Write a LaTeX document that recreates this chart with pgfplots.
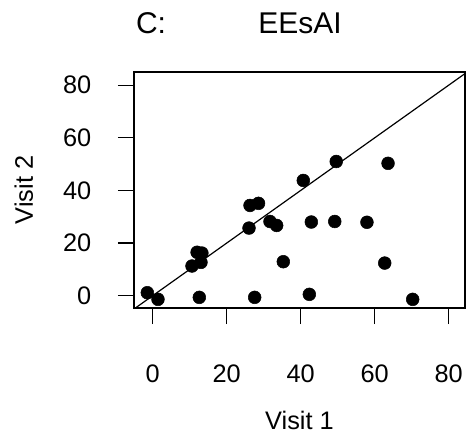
\documentclass[border=0pt]{standalone}
\usepackage{pgfplots}
\pgfplotsset{compat=1.18}
\usepackage{fontspec}
\setmainfont{Liberation Sans}

\begin{document}
\begin{tikzpicture}
\fontsize{19}{22}\selectfont
\begin{axis}[
    at={(0,0)}, anchor=south west,
    scale only axis,
    width=248.25pt, height=177pt,
    xmin=-5.05, xmax=84.4,
    ymin=-4.67, ymax=85,
    xtick={0,20,40,60,80},
    ytick={0,20,40,60,80},
    xtick pos=bottom, ytick pos=left,
    tick align=outside,
    major tick length=12pt,
    tick style={black, line width=0.9pt},
    axis line style={line width=0.9pt},
    /pgf/number format/assume math mode=true,
    ticklabel style={font=\fontsize{19}{22}\selectfont},
    xticklabel style={anchor=base, yshift=-44pt},
    xticklabel shift=0pt,
    yticklabel style={anchor=east},
    yticklabel shift=13.5pt,
    clip=false,
]
  % reference line y = x
  \begin{scope}
  \clip (rel axis cs:0,0) rectangle (rel axis cs:1,1);
  \addplot[black, line width=0.9pt] coordinates {(-10,-10) (100,100)};
  \end{scope}

  \addplot[only marks, mark=*, mark size=4.8pt, mark options={black, fill=black}]
    coordinates {
      (-1.45,1.15) (1.43,-1.38) (12.6,-0.62) (27.56,-0.62) (42.33,0.52)
      (70.26,-1.38) (10.62,11.28) (13.05,12.67) (12.0,16.5) (13.3,16.2)
      (35.3,12.92) (62.7,12.4) (26.03,25.7) (31.7,28.2) (33.5,26.7)
      (42.87,28.0) (49.2,28.2) (57.9,27.9) (26.3,34.3) (28.6,35.1)
      (40.7,43.8) (49.6,51.0) (63.6,50.3)
    };

  \node[anchor=base, font=\fontsize{22.5}{26}\selectfont, inner sep=0pt]
    at ([xshift=12.75pt, yshift=28.5pt]rel axis cs:0,1) {C:};
  \node[anchor=base, font=\fontsize{22.5}{26}\selectfont, inner sep=0pt]
    at ([xshift=124.5pt, yshift=28.5pt]rel axis cs:0,1) {EEsAI};
  \node[anchor=base, inner sep=0pt]
    at ([yshift=-90.75pt]rel axis cs:0.5,0) {Visit 1};
  \node[anchor=base, rotate=90, inner sep=0pt]
    at ([xshift=-75.75pt]rel axis cs:0,0.5) {Visit 2};
\end{axis}
\pgfresetboundingbox
\path[use as bounding box] (-100.5pt,-103.5pt) rectangle (249pt,231pt);
\end{tikzpicture}
\end{document}
